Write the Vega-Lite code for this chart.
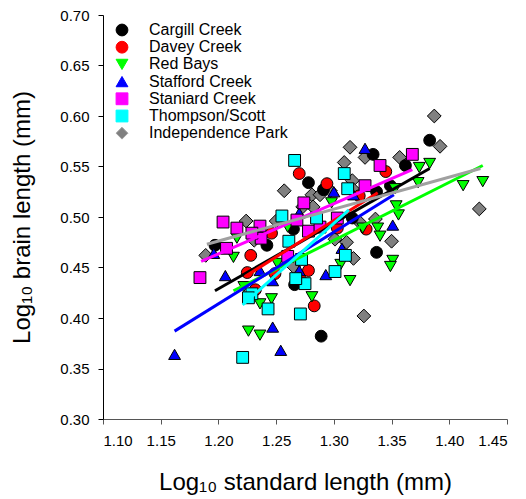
{
  "$schema": "https://vega.github.io/schema/vega-lite/v6.json",
  "width": 404,
  "height": 404,
  "autosize": {"type": "none"},
  "padding": {"left": 103, "top": 15, "right": 19, "bottom": 80},
  "background": "white",
  "config": {
    "view": {"stroke": null},
    "font": "Liberation Sans",
    "axis": {
      "grid": false,
      "tickSize": 5,
      "labelFontSize": 15,
      "labelColor": "black",
      "labelPadding": 9,
      "titleFontSize": 24,
      "titleFontWeight": "normal",
      "titleColor": "black",
      "format": ".2f"
    }
  },
  "datasets": {
    "pts": [
      {"s": "Cargill Creek", "x": 1.383, "y": 0.576},
      {"s": "Cargill Creek", "x": 1.334, "y": 0.562},
      {"s": "Cargill Creek", "x": 1.362, "y": 0.551},
      {"s": "Cargill Creek", "x": 1.278, "y": 0.534},
      {"s": "Cargill Creek", "x": 1.349, "y": 0.531},
      {"s": "Cargill Creek", "x": 1.337, "y": 0.525},
      {"s": "Cargill Creek", "x": 1.291, "y": 0.527},
      {"s": "Cargill Creek", "x": 1.265, "y": 0.488},
      {"s": "Cargill Creek", "x": 1.242, "y": 0.472},
      {"s": "Cargill Creek", "x": 1.197, "y": 0.472},
      {"s": "Cargill Creek", "x": 1.337, "y": 0.465},
      {"s": "Cargill Creek", "x": 1.266, "y": 0.433},
      {"s": "Cargill Creek", "x": 1.289, "y": 0.382},
      {"s": "Cargill Creek", "x": 1.316, "y": 0.499},
      {"s": "Davey Creek", "x": 1.270, "y": 0.543},
      {"s": "Davey Creek", "x": 1.294, "y": 0.533},
      {"s": "Davey Creek", "x": 1.345, "y": 0.545},
      {"s": "Davey Creek", "x": 1.322, "y": 0.521},
      {"s": "Davey Creek", "x": 1.246, "y": 0.484},
      {"s": "Davey Creek", "x": 1.228, "y": 0.462},
      {"s": "Davey Creek", "x": 1.303, "y": 0.489},
      {"s": "Davey Creek", "x": 1.328, "y": 0.488},
      {"s": "Davey Creek", "x": 1.225, "y": 0.445},
      {"s": "Davey Creek", "x": 1.249, "y": 0.444},
      {"s": "Davey Creek", "x": 1.278, "y": 0.447},
      {"s": "Davey Creek", "x": 1.283, "y": 0.412},
      {"s": "Davey Creek", "x": 1.232, "y": 0.428},
      {"s": "Davey Creek", "x": 1.271, "y": 0.438},
      {"s": "Red Bays", "x": 1.374, "y": 0.549},
      {"s": "Red Bays", "x": 1.383, "y": 0.553},
      {"s": "Red Bays", "x": 1.373, "y": 0.534},
      {"s": "Red Bays", "x": 1.412, "y": 0.531},
      {"s": "Red Bays", "x": 1.429, "y": 0.535},
      {"s": "Red Bays", "x": 1.354, "y": 0.511},
      {"s": "Red Bays", "x": 1.356, "y": 0.502},
      {"s": "Red Bays", "x": 1.351, "y": 0.457},
      {"s": "Red Bays", "x": 1.349, "y": 0.451},
      {"s": "Red Bays", "x": 1.338, "y": 0.489},
      {"s": "Red Bays", "x": 1.340, "y": 0.481},
      {"s": "Red Bays", "x": 1.306, "y": 0.453},
      {"s": "Red Bays", "x": 1.314, "y": 0.437},
      {"s": "Red Bays", "x": 1.281, "y": 0.421},
      {"s": "Red Bays", "x": 1.325, "y": 0.489},
      {"s": "Red Bays", "x": 1.298, "y": 0.514},
      {"s": "Red Bays", "x": 1.213, "y": 0.460},
      {"s": "Red Bays", "x": 1.216, "y": 0.479},
      {"s": "Red Bays", "x": 1.260, "y": 0.490},
      {"s": "Red Bays", "x": 1.251, "y": 0.454},
      {"s": "Red Bays", "x": 1.226, "y": 0.387},
      {"s": "Red Bays", "x": 1.236, "y": 0.383},
      {"s": "Red Bays", "x": 1.246, "y": 0.419},
      {"s": "Red Bays", "x": 1.236, "y": 0.414},
      {"s": "Red Bays", "x": 1.222, "y": 0.431},
      {"s": "Red Bays", "x": 1.353, "y": 0.528},
      {"s": "Stafford Creek", "x": 1.327, "y": 0.568},
      {"s": "Stafford Creek", "x": 1.162, "y": 0.364},
      {"s": "Stafford Creek", "x": 1.254, "y": 0.368},
      {"s": "Stafford Creek", "x": 1.247, "y": 0.391},
      {"s": "Stafford Creek", "x": 1.206, "y": 0.442},
      {"s": "Stafford Creek", "x": 1.293, "y": 0.443},
      {"s": "Stafford Creek", "x": 1.307, "y": 0.469},
      {"s": "Stafford Creek", "x": 1.351, "y": 0.492},
      {"s": "Stafford Creek", "x": 1.270, "y": 0.504},
      {"s": "Stafford Creek", "x": 1.300, "y": 0.525},
      {"s": "Stafford Creek", "x": 1.317, "y": 0.522},
      {"s": "Stafford Creek", "x": 1.196, "y": 0.464},
      {"s": "Stafford Creek", "x": 1.247, "y": 0.437},
      {"s": "Stafford Creek", "x": 1.270, "y": 0.447},
      {"s": "Stafford Creek", "x": 1.236, "y": 0.447},
      {"s": "Stafford Creek", "x": 1.236, "y": 0.484},
      {"s": "Staniard Creek", "x": 1.368, "y": 0.562},
      {"s": "Staniard Creek", "x": 1.340, "y": 0.551},
      {"s": "Staniard Creek", "x": 1.327, "y": 0.531},
      {"s": "Staniard Creek", "x": 1.204, "y": 0.495},
      {"s": "Staniard Creek", "x": 1.216, "y": 0.489},
      {"s": "Staniard Creek", "x": 1.236, "y": 0.491},
      {"s": "Staniard Creek", "x": 1.207, "y": 0.469},
      {"s": "Staniard Creek", "x": 1.184, "y": 0.440},
      {"s": "Staniard Creek", "x": 1.237, "y": 0.479},
      {"s": "Staniard Creek", "x": 1.229, "y": 0.484},
      {"s": "Staniard Creek", "x": 1.278, "y": 0.486},
      {"s": "Staniard Creek", "x": 1.274, "y": 0.514},
      {"s": "Staniard Creek", "x": 1.288, "y": 0.490},
      {"s": "Staniard Creek", "x": 1.303, "y": 0.499},
      {"s": "Staniard Creek", "x": 1.268, "y": 0.497},
      {"s": "Staniard Creek", "x": 1.260, "y": 0.461},
      {"s": "Thompson/Scott", "x": 1.266, "y": 0.556},
      {"s": "Thompson/Scott", "x": 1.309, "y": 0.543},
      {"s": "Thompson/Scott", "x": 1.312, "y": 0.528},
      {"s": "Thompson/Scott", "x": 1.255, "y": 0.501},
      {"s": "Thompson/Scott", "x": 1.285, "y": 0.499},
      {"s": "Thompson/Scott", "x": 1.261, "y": 0.476},
      {"s": "Thompson/Scott", "x": 1.272, "y": 0.458},
      {"s": "Thompson/Scott", "x": 1.310, "y": 0.462},
      {"s": "Thompson/Scott", "x": 1.301, "y": 0.446},
      {"s": "Thompson/Scott", "x": 1.275, "y": 0.434},
      {"s": "Thompson/Scott", "x": 1.267, "y": 0.439},
      {"s": "Thompson/Scott", "x": 1.243, "y": 0.409},
      {"s": "Thompson/Scott", "x": 1.271, "y": 0.404},
      {"s": "Thompson/Scott", "x": 1.221, "y": 0.361},
      {"s": "Thompson/Scott", "x": 1.229, "y": 0.424},
      {"s": "Thompson/Scott", "x": 1.226, "y": 0.420},
      {"s": "Independence Park", "x": 1.387, "y": 0.600},
      {"s": "Independence Park", "x": 1.392, "y": 0.570},
      {"s": "Independence Park", "x": 1.314, "y": 0.569},
      {"s": "Independence Park", "x": 1.327, "y": 0.559},
      {"s": "Independence Park", "x": 1.357, "y": 0.559},
      {"s": "Independence Park", "x": 1.309, "y": 0.554},
      {"s": "Independence Park", "x": 1.316, "y": 0.536},
      {"s": "Independence Park", "x": 1.257, "y": 0.526},
      {"s": "Independence Park", "x": 1.281, "y": 0.522},
      {"s": "Independence Park", "x": 1.288, "y": 0.522},
      {"s": "Independence Park", "x": 1.297, "y": 0.526},
      {"s": "Independence Park", "x": 1.317, "y": 0.527},
      {"s": "Independence Park", "x": 1.273, "y": 0.510},
      {"s": "Independence Park", "x": 1.282, "y": 0.510},
      {"s": "Independence Park", "x": 1.250, "y": 0.496},
      {"s": "Independence Park", "x": 1.224, "y": 0.496},
      {"s": "Independence Park", "x": 1.231, "y": 0.477},
      {"s": "Independence Park", "x": 1.189, "y": 0.462},
      {"s": "Independence Park", "x": 1.265, "y": 0.451},
      {"s": "Independence Park", "x": 1.301, "y": 0.478},
      {"s": "Independence Park", "x": 1.311, "y": 0.475},
      {"s": "Independence Park", "x": 1.317, "y": 0.459},
      {"s": "Independence Park", "x": 1.323, "y": 0.494},
      {"s": "Independence Park", "x": 1.336, "y": 0.498},
      {"s": "Independence Park", "x": 1.350, "y": 0.476},
      {"s": "Independence Park", "x": 1.326, "y": 0.402},
      {"s": "Independence Park", "x": 1.426, "y": 0.508}
    ],
    "fits": [
      {"s": "Cargill Creek", "x": 1.197, "y": 0.427},
      {"s": "Cargill Creek", "x": 1.383, "y": 0.548},
      {"s": "Davey Creek", "x": 1.223, "y": 0.441},
      {"s": "Davey Creek", "x": 1.338, "y": 0.524},
      {"s": "Red Bays", "x": 1.213, "y": 0.427},
      {"s": "Red Bays", "x": 1.429, "y": 0.551},
      {"s": "Stafford Creek", "x": 1.162, "y": 0.387},
      {"s": "Stafford Creek", "x": 1.352, "y": 0.522},
      {"s": "Staniard Creek", "x": 1.185, "y": 0.456},
      {"s": "Staniard Creek", "x": 1.368, "y": 0.547},
      {"s": "Thompson/Scott", "x": 1.221, "y": 0.413},
      {"s": "Thompson/Scott", "x": 1.313, "y": 0.507},
      {"s": "Independence Park", "x": 1.190, "y": 0.473},
      {"s": "Independence Park", "x": 1.427, "y": 0.548}
    ]
  },
  "encoding": {
    "x": {
      "field": "x", "type": "quantitative",
      "scale": {"domain": [1.10, 1.45], "nice": false, "zero": false},
      "axis": {
        "title": "Log₁₀ standard length (mm)",
        "values": [1.10, 1.15, 1.20, 1.25, 1.30, 1.35, 1.40, 1.45],
        "domainColor": "#555555", "tickColor": "#555555",
        "titlePadding": 22
      }
    },
    "y": {
      "field": "y", "type": "quantitative",
      "scale": {"domain": [0.30, 0.70], "nice": false, "zero": false},
      "axis": {
        "title": "Log₁₀ brain length (mm)",
        "values": [0.30, 0.35, 0.40, 0.45, 0.50, 0.55, 0.60, 0.65, 0.70],
        "domainColor": "black", "tickColor": "black",
        "titlePadding": 25
      }
    }
  },
  "layer": [
    {
      "data": {"name": "pts"},
      "transform": [{"filter": "datum.s === 'Independence Park'"}],
      "mark": {"type": "point", "filled": true, "stroke": "black", "strokeWidth": 1, "size": 190, "opacity": 1},
      "encoding": {
        "fill": {
          "field": "s", "type": "nominal",
          "scale": {
            "domain": ["Cargill Creek", "Davey Creek", "Red Bays", "Stafford Creek", "Staniard Creek", "Thompson/Scott", "Independence Park"],
            "range": ["#000000", "#ff0000", "#00ff00", "#0000ff", "#ff00ff", "#00ffff", "#808080"]
          },
          "legend": {
            "title": null, "orient": "none", "legendX": 11, "legendY": 7,
            "labelFontSize": 16, "labelColor": "black", "labelOffset": 19,
            "symbolSize": 140, "symbolStrokeColor": "black", "symbolStrokeWidth": 1,
            "rowPadding": 1.2, "padding": 0
          }
        },
        "shape": {
          "field": "s", "type": "nominal",
          "scale": {
            "domain": ["Cargill Creek", "Davey Creek", "Red Bays", "Stafford Creek", "Staniard Creek", "Thompson/Scott", "Independence Park"],
            "range": ["circle", "circle", "triangle-down", "triangle-up", "square", "square", "diamond"]
          },
          "legend": {
            "title": null, "orient": "none", "legendX": 11, "legendY": 7,
            "labelFontSize": 16, "labelColor": "black", "labelOffset": 19,
            "symbolSize": 140, "symbolStrokeColor": "black", "symbolStrokeWidth": 1,
            "rowPadding": 1.2, "padding": 0
          }
        }
      }
    },
    {
      "data": {"name": "pts"},
      "transform": [{"filter": "datum.s !== 'Independence Park'"}],
      "mark": {"type": "point", "filled": true, "stroke": "black", "strokeWidth": 1, "size": 140, "opacity": 1},
      "encoding": {
        "fill": {"field": "s", "type": "nominal"},
        "shape": {"field": "s", "type": "nominal"}
      }
    },
    {
      "data": {"name": "fits"},
      "mark": {"type": "line", "strokeWidth": 3},
      "encoding": {
        "detail": {"field": "s", "type": "nominal"},
        "stroke": {
          "field": "s", "type": "nominal",
          "scale": {
            "domain": ["Cargill Creek", "Davey Creek", "Red Bays", "Stafford Creek", "Staniard Creek", "Thompson/Scott", "Independence Park"],
            "range": ["#000000", "#ff0000", "#00ff00", "#0000ff", "#ff00ff", "#00ffff", "#a0a0a0"]
          },
          "legend": null
        }
      }
    }
  ]
}
